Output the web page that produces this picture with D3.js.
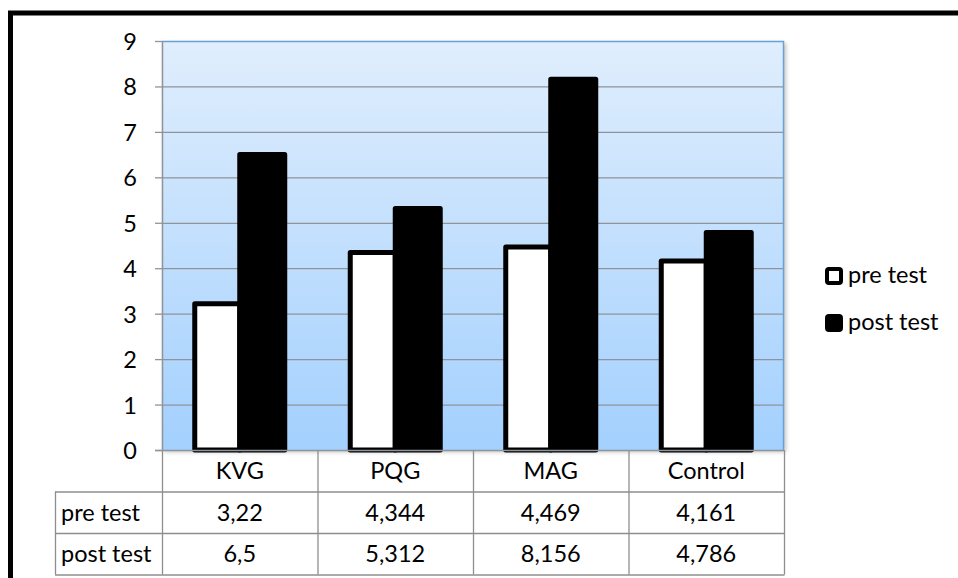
<!DOCTYPE html>
<html><head><meta charset="utf-8">
<script src="https://cdn.jsdelivr.net/npm/d3@7/dist/d3.min.js"></script>
<style>
html,body{margin:0;padding:0;background:#fff;}
svg{display:block;font-family:Lato,"Open Sans",sans-serif;}
</style></head>
<body>
<svg id="chart" width="958" height="578"></svg>
<script>
const categories = ["KVG","PQG","MAG","Control"];
const seriesNames = ["pre test","post test"];
const preTest = [3.22, 4.344, 4.469, 4.161];
const postTest = [6.5, 5.312, 8.156, 4.786];
const yTicks = [0,1,2,3,4,5,6,7,8,9];

const svg = d3.select("#chart");
const W = 958, H = 578;
const plot = {left:162, right:784, top:41, bottom:450};
const rowH = 41.5;
const tableLeft = 55;
const FS = 23.5;
const fill = ["#ffffff","#000000"];
const values = [preTest, postTest];
const fmt = v => String(v).replace(".", ",");

// outer frame
svg.append("rect").attr("x",10.5).attr("y",13).attr("width",W+20).attr("height",H+20)
  .attr("fill","none").attr("stroke","#000").attr("stroke-width",5);

const defs = svg.append("defs");
const grad = defs.append("linearGradient").attr("id","bg").attr("x1",0).attr("y1",0).attr("x2",0).attr("y2",1);
grad.append("stop").attr("offset","0%").attr("stop-color","#e0eefd");
grad.append("stop").attr("offset","100%").attr("stop-color","#a3d0fe");
const sh = defs.append("filter").attr("id","sh").attr("x","-5%").attr("y","-5%").attr("width","115%").attr("height","115%");
sh.append("feGaussianBlur").attr("stdDeviation",2);

const x = d3.scaleBand().domain(categories).range([plot.left, plot.right]);
const x1 = d3.scaleBand().domain(seriesNames).range([0, x.bandwidth()]).paddingOuter(0.728);
const y = d3.scaleLinear().domain([0,9]).range([plot.bottom, plot.top]);

// shadow + background
svg.append("rect").attr("x",plot.left+2).attr("y",plot.top+2)
  .attr("width",plot.right-plot.left).attr("height",plot.bottom-plot.top)
  .attr("fill","#9a9a9a").attr("opacity",0.6).attr("filter","url(#sh)");
svg.append("rect").attr("x",plot.left).attr("y",plot.top)
  .attr("width",plot.right-plot.left).attr("height",plot.bottom-plot.top)
  .attr("fill","url(#bg)");

// gridlines
svg.append("g").selectAll("line").data(yTicks.filter(d=>d>0&&d<9)).join("line")
  .attr("x1",plot.left).attr("x2",plot.right)
  .attr("y1",d=>y(d)+0.5).attr("y2",d=>y(d)+0.5)
  .attr("stroke","#8e9499").attr("stroke-width",1.3);

// plot border top/right
svg.append("path")
  .attr("d",`M${plot.left},${plot.top+0.5}H${plot.right-0.5}V${plot.bottom}`)
  .attr("fill","none").attr("stroke","#6aa2d8").attr("stroke-width",1.5);

// y axis
const yAxis = d3.axisLeft(y).tickValues(yTicks).tickSize(7).tickPadding(18).tickFormat(d3.format("d"));
const gy = svg.append("g").attr("transform",`translate(${plot.left},0)`).call(yAxis);
gy.select(".domain").remove();
gy.selectAll(".tick line").attr("stroke","#8e9499").attr("stroke-width",1.3);
gy.selectAll(".tick text").attr("font-size",FS).attr("fill","#000")
  .attr("font-family","Lato,'Open Sans',sans-serif").attr("dy","0.36em");

// bars
const groups = svg.append("g").selectAll("g").data(categories).join("g")
  .attr("transform",d=>`translate(${x(d)},0)`);
groups.selectAll("rect").data((c,i)=>seriesNames.map((s,j)=>({s, j, v: values[j][i]}))).join("rect")
  .attr("x",d=>x1(d.s)).attr("width",x1.bandwidth())
  .attr("y",d=>y(d.v)).attr("height",d=>y(0)-y(d.v))
  .attr("fill",d=>fill[d.j]).attr("stroke","#000").attr("stroke-width",5)
  .attr("stroke-linejoin","round");

// table grid
const tg = svg.append("g").attr("stroke","#8e8e8e").attr("stroke-width",1.3).attr("fill","none");
const bounds = [plot.left, ...categories.map(c=>x(c)+x.bandwidth())];
tg.selectAll("line.v").data(bounds).join("line").attr("class","v")
  .attr("x1",d=>d+0.5).attr("x2",d=>d+0.5).attr("y1",plot.bottom).attr("y2",plot.bottom+rowH*3);
tg.append("line").attr("x1",tableLeft+0.5).attr("x2",tableLeft+0.5)
  .attr("y1",plot.bottom+rowH).attr("y2",plot.bottom+rowH*3);
[1,2,3].forEach(k=>{
  tg.append("line").attr("x1",tableLeft).attr("x2",plot.right+0.5)
    .attr("y1",plot.bottom+rowH*k+0.5).attr("y2",plot.bottom+rowH*k+0.5);
});
// axis lines
svg.append("line").attr("x1",plot.left-7).attr("x2",plot.right).attr("y1",plot.bottom+0.5).attr("y2",plot.bottom+0.5)
  .attr("stroke","#8e9499").attr("stroke-width",1.3);
svg.append("line").attr("x1",plot.left+0.5).attr("x2",plot.left+0.5).attr("y1",plot.top).attr("y2",plot.bottom)
  .attr("stroke","#8e9499").attr("stroke-width",1.5);

// table text
const tt = svg.append("g").attr("font-size",FS).attr("fill","#000");
tt.selectAll("text.cat").data(categories).join("text").attr("class","cat")
  .attr("x",d=>x(d)+x.bandwidth()/2).attr("y",plot.bottom+rowH/2+8.5).attr("text-anchor","middle").text(d=>d);
seriesNames.forEach((s,j)=>{
  const ry = plot.bottom+rowH*(j+1)+rowH/2+8.5;
  tt.append("text").attr("x",tableLeft+6).attr("y",ry).text(s);
  tt.selectAll(null).data(categories).join("text")
    .attr("x",d=>x(d)+x.bandwidth()/2).attr("y",ry).attr("text-anchor","middle")
    .text((d,i)=>fmt(values[j][i]));
});

// legend
const lg = svg.append("g").attr("transform","translate(825,267)");
seriesNames.forEach((s,j)=>{
  const g = lg.append("g").attr("transform",`translate(0,${j*47})`);
  g.append("rect").attr("x",2).attr("y",2).attr("width",14).attr("height",14).attr("rx",2)
    .attr("fill",fill[j]).attr("stroke","#000").attr("stroke-width",4);
  g.append("text").attr("x",23).attr("y",16).attr("font-size",FS).text(s);
});
</script>
</body></html>
